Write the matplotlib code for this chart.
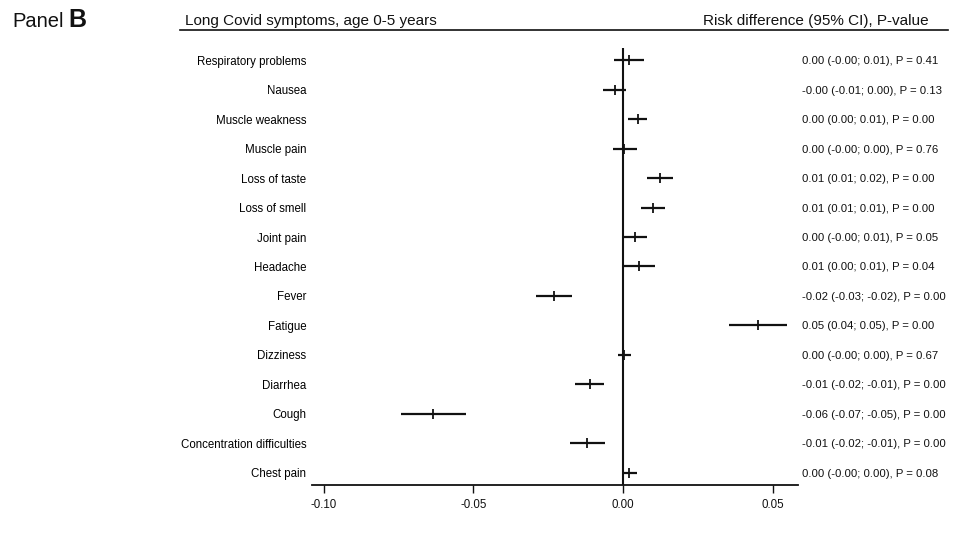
import matplotlib
matplotlib.use("Agg")
import matplotlib.pyplot as plt
from matplotlib.lines import Line2D

plt.rcParams['font.family'] = ['Liberation Sans', 'DejaVu Sans']

symptoms = ["Respiratory problems", "Nausea", "Muscle weakness", "Muscle pain",
            "Loss of taste", "Loss of smell", "Joint pain", "Headache", "Fever",
            "Fatigue", "Dizziness", "Diarrhea", "Cough",
            "Concentration difficulties", "Chest pain"]
estimate = [0.0021, -0.0028, 0.0050, 0.0004, 0.0125, 0.0099, 0.0039, 0.0055,
            -0.0232, 0.0451, 0.0003, -0.0111, -0.0633, -0.0119, 0.0021]
ci_low = [-0.0029, -0.0066, 0.0018, -0.0033, 0.0082, 0.0062, 0.0000, 0.0000,
          -0.0292, 0.0354, -0.0016, -0.0160, -0.0741, -0.0176, -0.0004]
ci_high = [0.0071, 0.0010, 0.0082, 0.0047, 0.0168, 0.0139, 0.0079, 0.0108,
           -0.0171, 0.0547, 0.0026, -0.0062, -0.0524, -0.0060, 0.0046]
result_text = ["0.00 (-0.00; 0.01), P = 0.41", "-0.00 (-0.01; 0.00), P = 0.13",
               "0.00 (0.00; 0.01), P = 0.00", "0.00 (-0.00; 0.00), P = 0.76",
               "0.01 (0.01; 0.02), P = 0.00", "0.01 (0.01; 0.01), P = 0.00",
               "0.00 (-0.00; 0.01), P = 0.05", "0.01 (0.00; 0.01), P = 0.04",
               "-0.02 (-0.03; -0.02), P = 0.00", "0.05 (0.04; 0.05), P = 0.00",
               "0.00 (-0.00; 0.00), P = 0.67", "-0.01 (-0.02; -0.01), P = 0.00",
               "-0.06 (-0.07; -0.05), P = 0.00", "-0.01 (-0.02; -0.01), P = 0.00",
               "0.00 (-0.00; 0.00), P = 0.08"]
xticks = [-0.10, -0.05, 0.00, 0.05]
xtick_labels = ["-0.10", "-0.05", "0.00", "0.05"]

W, H = 967, 549
fig = plt.figure(figsize=(W / 100, H / 100), dpi=100)

def fx(px):
    return px / W

def fy(py):
    return 1 - py / H

# axes in pixel coordinates
ax_l, ax_r, ax_t, ax_b = 312, 798, 48, 485
ax = fig.add_axes([fx(ax_l), fy(ax_b), (ax_r - ax_l) / W, (ax_b - ax_t) / H])

n = len(symptoms)
ypos = [n - 1 - i for i in range(n)]

for y, lo, hi in zip(ypos, ci_low, ci_high):
    ax.plot([lo, hi], [y, y], color='#111111', lw=1.6, solid_capstyle='butt')
ax.plot(estimate, ypos, linestyle='none', marker='|', markersize=7,
        markeredgewidth=1.3, color='#111111')

ax.axvline(0, color='#111111', lw=1.5)

ax.set_xlim(-0.1039, 0.0585)
ax.set_ylim(-0.407, n - 1 + 0.407)
ax.set_xticks(xticks)
ax.set_xticklabels(xtick_labels, fontsize=8.3)
ax.set_yticks(ypos)
ax.set_yticklabels(symptoms, fontsize=8.3)
ax.tick_params(axis='y', length=0, pad=4)
ax.tick_params(axis='x', length=6, width=1.0, direction='out', pad=4, colors='#111111')
for s in ['left', 'top', 'right']:
    ax.spines[s].set_visible(False)
ax.spines['bottom'].set_linewidth(1.3)
ax.spines['bottom'].set_color('#111111')
ax.patch.set_visible(False)

# result text column
for y, t in zip(ypos, result_text):
    ax.annotate(t, xy=(1, y), xycoords=('axes fraction', 'data'),
                xytext=(4, 0), textcoords='offset pixels',
                ha='left', va='center_baseline', fontsize=8.2, color='#111111')

# header
fig.add_artist(Line2D([fx(180), fx(948)], [fy(30), fy(30)], color='#111111', lw=1.2))
fig.text(fx(185), fy(25), "Long Covid symptoms, age 0-5 years", ha='left', va='baseline',
         fontsize=11, color='#111111')
fig.text(fx(929), fy(25), "Risk difference (95% CI), P-value", ha='right', va='baseline',
         fontsize=11, color='#111111')
fig.text(fx(12), fy(27), "Panel", ha='left', va='baseline', fontsize=14.5, color='#111111')
fig.text(fx(68), fy(27), "B", ha='left', va='baseline', fontsize=18,
         fontweight='bold', color='#111111')

fig.savefig("out.png", dpi=100)
